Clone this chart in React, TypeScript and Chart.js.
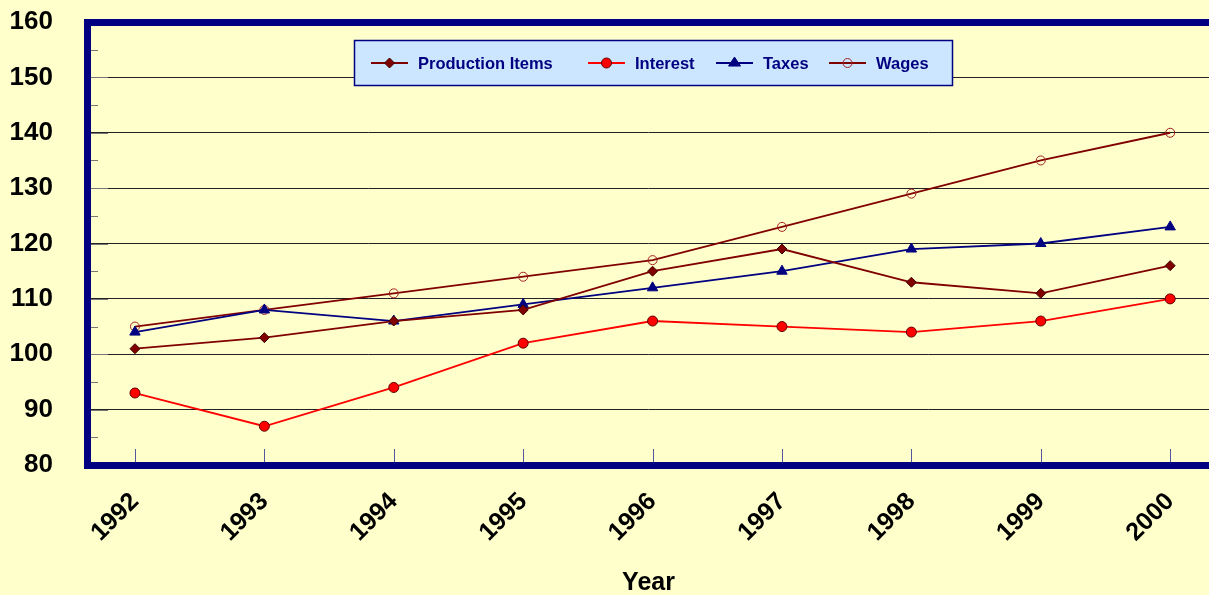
import React, { useEffect, useRef } from "react";
import { Chart, registerables } from "chart.js";

Chart.register(...registerables);

const years = [1992, 1993, 1994, 1995, 1996, 1997, 1998, 1999, 2000];
const productionItems = [101, 103, 106, 108, 115, 119, 113, 111, 116];
const interest = [93, 87, 94, 102, 106, 105, 104, 106, 110];
const taxes = [104, 108, 106, 109, 112, 115, 119, 120, 123];
const wages = [105, 108, 111, 114, 117, 123, 129, 135, 140];
const seriesLabels = ["Production Items", "Interest", "Taxes", "Wages"];
const yMin = 80;
const yMax = 160;
const yStep = 10;
const minorStep = 5;

const FONT = "'Liberation Sans', Arial, Helvetica, sans-serif";
const NAVY = "#000080";
const BG = "#FFFFCC";

function pts(vals: number[]) {
  return years.map((y, i) => ({ x: y, y: vals[i] }));
}

function drawMarker(ctx: CanvasRenderingContext2D, ds: any, x: number, y: number) {
  const r = ds.pointRadius;
  ctx.save();
  ctx.fillStyle = ds.pointBackgroundColor;
  ctx.strokeStyle = ds.pointBorderColor;
  ctx.lineWidth = ds.pointBorderWidth;
  ctx.beginPath();
  if (ds.pointStyle === "rectRot") {
    ctx.moveTo(x, y - r);
    ctx.lineTo(x + r, y);
    ctx.lineTo(x, y + r);
    ctx.lineTo(x - r, y);
    ctx.closePath();
  } else if (ds.pointStyle === "triangle") {
    const h = r * 1.5;
    ctx.moveTo(x, y - h * 0.66);
    ctx.lineTo(x + r, y + h * 0.34);
    ctx.lineTo(x - r, y + h * 0.34);
    ctx.closePath();
  } else {
    ctx.arc(x, y, r, 0, Math.PI * 2);
  }
  ctx.fill();
  ctx.stroke();
  ctx.restore();
}

const decorPlugin = {
  id: "decor",
  beforeDatasetsDraw(chart: any) {
    const { ctx, chartArea, scales } = chart;
    const y = scales.y;
    const x = scales.x;
    ctx.save();
    ctx.strokeStyle = "#777777";
    ctx.lineWidth = 1;
    for (let v = yMin; v <= yMax; v += minorStep) {
      const py = Math.round(y.getPixelForValue(v)) + 0.5;
      const len = v % yStep === 0 ? 20 : 10;
      ctx.beginPath();
      ctx.moveTo(chartArea.left, py);
      ctx.lineTo(chartArea.left + len, py);
      ctx.stroke();
    }
    ctx.strokeStyle = "#5555A0";
    for (const yr of years) {
      const px = Math.round(x.getPixelForValue(yr)) + 0.5;
      ctx.beginPath();
      ctx.moveTo(px, chartArea.bottom);
      ctx.lineTo(px, chartArea.bottom - 16);
      ctx.stroke();
    }
    ctx.restore();
  },
  afterDraw(chart: any) {
    const { ctx, chartArea } = chart;
    ctx.save();
    ctx.fillStyle = NAVY;
    ctx.fillRect(chartArea.left - 4, chartArea.top - 3, chart.width, 7);
    ctx.fillRect(chartArea.left - 4, chartArea.top - 3, 7, chartArea.bottom - chartArea.top + 7);
    ctx.fillRect(chartArea.left - 4, chartArea.bottom - 3, chart.width, 7);

    const bx = 354, by = 40, bw = 598, bh = 45;
    ctx.fillStyle = "#CCE6FF";
    ctx.fillRect(bx, by, bw, bh);
    ctx.strokeStyle = NAVY;
    ctx.lineWidth = 1.5;
    ctx.strokeRect(bx + 0.5, by + 0.5, bw, bh);
    const starts = [371, 588, 716, 829];
    const cy = by + bh / 2 + 0.5;
    ctx.font = `bold 16.5px ${FONT}`;
    ctx.textBaseline = "middle";
    ctx.textAlign = "left";
    chart.data.datasets.forEach((ds: any, i: number) => {
      const sx = starts[i];
      ctx.strokeStyle = ds.borderColor;
      ctx.lineWidth = ds.borderWidth;
      ctx.beginPath();
      ctx.moveTo(sx, cy);
      ctx.lineTo(sx + 37, cy);
      ctx.stroke();
      drawMarker(ctx, ds, sx + 18.5, cy);
      ctx.fillStyle = NAVY;
      ctx.fillText(ds.label, sx + 47, cy + 1);
    });
    ctx.restore();
  },
};

export default function App() {
  const ref = useRef<HTMLCanvasElement | null>(null);

  useEffect(() => {
    document.body.style.margin = "0";
    document.body.style.background = BG;
    const canvas = ref.current;
    if (!canvas) return;
    const chart = new Chart(canvas, {
      type: "line",
      data: {
        datasets: [
          {
            label: seriesLabels[0],
            data: pts(productionItems),
            borderColor: "#800000",
            borderWidth: 1.8,
            pointStyle: "rectRot",
            pointRadius: 5,
            pointBackgroundColor: "#800000",
            pointBorderColor: "#400000",
            pointBorderWidth: 1,
          },
          {
            label: seriesLabels[1],
            data: pts(interest),
            borderColor: "#FF0000",
            borderWidth: 1.8,
            pointStyle: "circle",
            pointRadius: 5,
            pointBackgroundColor: "#FF0000",
            pointBorderColor: "#600000",
            pointBorderWidth: 1,
          },
          {
            label: seriesLabels[2],
            data: pts(taxes),
            borderColor: NAVY,
            borderWidth: 1.8,
            pointStyle: "triangle",
            pointRadius: 6,
            pointBackgroundColor: NAVY,
            pointBorderColor: NAVY,
            pointBorderWidth: 1,
          },
          {
            label: seriesLabels[3],
            data: pts(wages),
            borderColor: "#800000",
            borderWidth: 1.8,
            pointStyle: "circle",
            pointRadius: 4.5,
            pointBackgroundColor: "rgba(0,0,0,0)",
            pointBorderColor: "#A02020",
            pointBorderWidth: 1,
          },
        ],
      },
      options: {
        responsive: false,
        animation: false,
        layout: { autoPadding: false, padding: { top: 22, right: 0, left: 0, bottom: 0 } },
        plugins: {
          legend: { display: false },
          tooltip: { enabled: false },
        },
        scales: {
          x: {
            type: "linear",
            min: 1991.637,
            max: 2000.3,
            afterBuildTicks: (s: any) => {
              s.ticks = years.map((v) => ({ value: v }));
            },
            afterFit: (s: any) => {
              s.height = 130;
              s.paddingLeft = 0;
              s.paddingRight = 0;
            },
            grid: { display: false, drawTicks: false },
            border: { display: false },
            ticks: {
              color: "#000",
              font: { family: FONT, size: 25, weight: "bold" },
              minRotation: 45,
              maxRotation: 45,
              padding: 22,
              autoSkip: false,
              callback: (v: any) => String(v),
            },
            title: {
              display: true,
              text: "Year",
              color: "#000",
              font: { family: FONT, size: 25, weight: "bold", lineHeight: 1 },
              padding: { top: 0, bottom: -1 },
            },
          },
          y: {
            min: yMin,
            max: yMax,
            afterFit: (s: any) => {
              s.width = 88;
              s.paddingTop = 0;
              s.paddingBottom = 0;
            },
            grid: { color: "#222", lineWidth: 1, drawTicks: false },
            border: { display: false },
            ticks: {
              stepSize: yStep,
              color: "#000",
              font: { family: FONT, size: 26, weight: "bold" },
              padding: 35,
            },
          },
        },
      },
      plugins: [decorPlugin],
    });
    return () => chart.destroy();
  }, []);

  return (
    <div style={{ width: 1209, height: 595, background: BG }}>
      <canvas ref={ref} width={1209} height={595} style={{ display: "block" }} />
    </div>
  );
}
